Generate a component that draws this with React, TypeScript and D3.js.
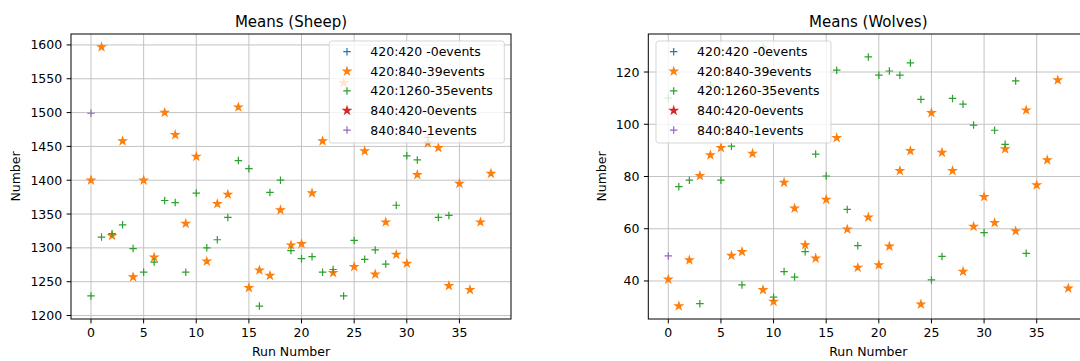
import React from 'react';
import * as d3 from 'd3';

// Legend labels, in plotting order
const seriesLabels = ['420:420 -0events', '420:840-39events', '420:1260-35events', '840:420-0events', '840:840-1events'];
const seriesColors = ['#1f77b4', '#ff7f0e', '#2ca02c', '#d62728', '#9467bd'];
const seriesMarkers: ('plus' | 'star')[] = ['plus', 'star', 'plus', 'star', 'plus'];

// Sheep means per run
const sheep420_420: number[] = [];
const sheep420_840 = [1400, 1597, 1318, 1458, 1257, 1400, 1286, 1500, 1467, 1336, 1435, 1280, 1365, 1379, 1508, 1241, 1267, 1259, 1356, 1304, 1306, 1381, 1458, 1263, 1544, 1272, 1443, 1261, 1338, 1290, 1277, 1408, 1455, 1448, 1244, 1395, 1238, 1338, 1410];
const sheep420_1260 = [1229, 1316, 1321, 1334, 1299, 1264, 1279, 1370, 1367, 1264, 1381, 1300, 1312, 1345, 1429, 1417, 1214, 1382, 1400, 1296, 1284, 1287, 1264, 1268, 1229, 1311, 1283, 1297, 1276, 1363, 1436, 1430, 1463, 1345, 1348];
const sheep840_420: number[] = [];
const sheep840_840 = [1499];

// Wolves means per run
const wolves420_420: number[] = [];
const wolves420_840 = [40.6, 30.4, 48, 80.3, 88.2, 91, 49.7, 51.2, 88.8, 36.6, 32.1, 77.7, 67.8, 53.8, 48.7, 71.2, 94.8, 59.8, 45.1, 64.4, 46.1, 53.3, 82.2, 89.8, 31.1, 104.4, 89.2, 82.2, 43.6, 60.8, 72.2, 62.3, 90.5, 59.1, 105.4, 76.7, 86.3, 116.9, 37.2];
const wolves420_1260 = [110, 76.1, 78.6, 31.3, 115, 78.6, 91.6, 38.5, 96.5, 129.6, 33.8, 43.6, 41.5, 51.2, 88.6, 80.2, 120.7, 67.4, 53.5, 125.8, 118.8, 120.4, 118.8, 123.5, 109.5, 40.4, 49.4, 109.9, 107.7, 99.7, 58.5, 97.7, 92.3, 116.6, 50.6];
const wolves840_420: number[] = [];
const wolves840_840 = [49.6];

// Tick values
const runTicks = [0, 5, 10, 15, 20, 25, 30, 35];
const sheepTicks = [1200, 1250, 1300, 1350, 1400, 1450, 1500, 1550, 1600];
const wolvesTicks = [40, 60, 80, 100, 120];

const W = 1080;
const H = 361;
const FONT = '"DejaVu Sans", "Liberation Sans", sans-serif';
const FS = 12.5;
const AX_TOP = 34;
const AX_BOTTOM = 319;
const TICK = 4.4;
const PAD = 4.4;

type Series = { label: string; color: string; marker: 'plus' | 'star'; values: number[] };

const makeSeries = (vals: number[][]): Series[] =>
  vals.map((v, i) => ({ label: seriesLabels[i], color: seriesColors[i], marker: seriesMarkers[i], values: v }));

const starD = d3.symbol().type(d3.symbolStar).size(15.8)() as string;
const PLUS_R = 3.75;

function Marker({ kind, color, cx, cy }: { kind: 'plus' | 'star'; color: string; cx: number; cy: number }) {
  if (kind === 'star') {
    return (
      <path d={starD} transform={`translate(${cx},${cy})`} fill={color} stroke={color} strokeWidth={1.25} strokeLinejoin="miter" />
    );
  }
  const p = d3.path();
  p.moveTo(cx - PLUS_R, cy);
  p.lineTo(cx + PLUS_R, cy);
  p.moveTo(cx, cy - PLUS_R);
  p.lineTo(cx, cy + PLUS_R);
  return <path d={p.toString()} stroke={color} strokeWidth={1.2} fill="none" />;
}

function Panel({
  title,
  series,
  yTicks,
  x0,
  x1,
  legendSide,
}: {
  title: string;
  series: Series[];
  yTicks: number[];
  x0: number;
  x1: number;
  legendSide: 'left' | 'right';
}) {
  const nRuns = d3.max(series, (s) => s.values.length) as number;
  const xPad = (nRuns - 1) * 0.05;
  const x = d3.scaleLinear().domain([-xPad, nRuns - 1 + xPad]).range([x0, x1]);
  const all = series.flatMap((s) => s.values);
  const [lo, hi] = d3.extent(all) as [number, number];
  const yPad = (hi - lo) * 0.05;
  const y = d3.scaleLinear().domain([lo - yPad, hi + yPad]).range([AX_BOTTOM, AX_TOP]);

  const tickLabelW = d3.max(yTicks, (t) => String(t).length)! * 0.636 * FS;
  const yLabelX = x0 - TICK - PAD - tickLabelW - 14.5;
  const cx = (x0 + x1) / 2;

  const legW = 175;
  const legH = 102;
  const legX = legendSide === 'right' ? x1 - 6.7 - legW : x0 + 7.7;
  const legY = AX_TOP + 7;
  const rowStep = 19.6;

  return (
    <g>
      {/* grid */}
      <g stroke="#b0b0b0" strokeWidth={1} opacity={0.75}>
        {runTicks.map((t) => (
          <line key={`gx${t}`} x1={x(t)} x2={x(t)} y1={AX_TOP} y2={AX_BOTTOM} />
        ))}
        {yTicks.map((t) => (
          <line key={`gy${t}`} x1={x0} x2={x1} y1={y(t)} y2={y(t)} />
        ))}
      </g>

      {/* data */}
      {series.map((s) =>
        s.values.map((v, i) => <Marker key={`${s.label}-${i}`} kind={s.marker} color={s.color} cx={x(i)} cy={y(v)} />)
      )}

      {/* spines */}
      <rect x={x0} y={AX_TOP} width={x1 - x0} height={AX_BOTTOM - AX_TOP} fill="none" stroke="#000" strokeWidth={1} />

      {/* x ticks */}
      {runTicks.map((t) => (
        <g key={`xt${t}`}>
          <line x1={x(t)} x2={x(t)} y1={AX_BOTTOM} y2={AX_BOTTOM + TICK} stroke="#000" strokeWidth={1} />
          <text x={x(t)} y={AX_BOTTOM + TICK + PAD + 9.6} textAnchor="middle" fontSize={FS} fontFamily={FONT} fill="#000">
            {t}
          </text>
        </g>
      ))}

      {/* y ticks */}
      {yTicks.map((t) => (
        <g key={`yt${t}`}>
          <line x1={x0 - TICK} x2={x0} y1={y(t)} y2={y(t)} stroke="#000" strokeWidth={1} />
          <text x={x0 - TICK - PAD} y={y(t) + 4.5} textAnchor="end" fontSize={FS} fontFamily={FONT} fill="#000">
            {t}
          </text>
        </g>
      ))}

      {/* axis labels */}
      <text x={cx} y={356} textAnchor="middle" fontSize={FS} fontFamily={FONT} fill="#000">
        Run Number
      </text>
      <text
        transform={`translate(${yLabelX},${(AX_TOP + AX_BOTTOM) / 2}) rotate(-90)`}
        textAnchor="middle"
        dominantBaseline="central"
        fontSize={FS}
        fontFamily={FONT}
        fill="#000"
      >
        Number
      </text>

      {/* title */}
      <text x={cx} y={27} textAnchor="middle" fontSize={15} fontFamily={FONT} fill="#000">
        {title}
      </text>

      {/* legend */}
      <g>
        <rect x={legX} y={legY} width={legW} height={legH} rx={2.5} ry={2.5} fill="#fff" fillOpacity={0.8} stroke="#cccccc" strokeOpacity={0.8} strokeWidth={1} />
        {series.map((s, i) => {
          const ry = legY + 10.7 + i * rowStep;
          return (
            <g key={`leg${i}`}>
              <Marker kind={s.marker} color={s.color} cx={legX + 17.7} cy={ry} />
              <text x={legX + 41} y={ry} dominantBaseline="central" fontSize={FS} fontFamily={FONT} fill="#000">
                {s.label}
              </text>
            </g>
          );
        })}
      </g>
    </g>
  );
}

export default function App() {
  const sheep = makeSeries([sheep420_420, sheep420_840, sheep420_1260, sheep840_420, sheep840_840]);
  const wolves = makeSeries([wolves420_420, wolves420_840, wolves420_1260, wolves840_420, wolves840_840]);
  return (
    <svg width={W} height={H} viewBox={`0 0 ${W} ${H}`} style={{ position: 'absolute', left: 0, top: 0, background: '#fff' }}>
      <rect x={0} y={0} width={W} height={H} fill="#fff" />
      <Panel title="Means (Sheep)" series={sheep} yTicks={sheepTicks} x0={71} x1={511} legendSide="right" />
      <Panel title="Means (Wolves)" series={wolves} yTicks={wolvesTicks} x0={648.3} x1={1088.3} legendSide="left" />
    </svg>
  );
}
